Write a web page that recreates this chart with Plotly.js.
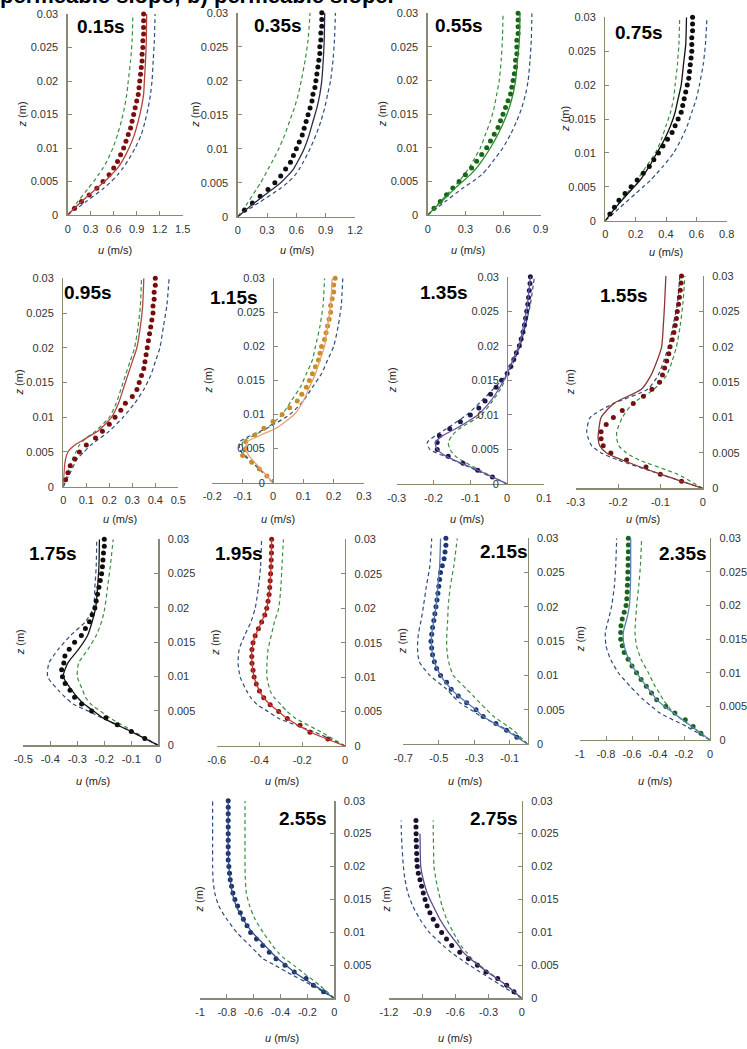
<!DOCTYPE html>
<html><head><meta charset="utf-8">
<script src="https://cdn.plot.ly/plotly-3.0.1.min.js"></script>
<style>html,body{margin:0;padding:0;background:#fff;}#chart{width:747px;height:1049px;}</style>
</head><body><div id="chart"></div>
<script>
// ---------- DATA ----------
const zLine = [0, 0.002, 0.004, 0.005, 0.006, 0.007, 0.008, 0.010, 0.012, 0.014, 0.016, 0.018, 0.020, 0.023, 0.026, 0.030];
const zLine275 = [0, 0.002, 0.004, 0.005, 0.006, 0.007, 0.008, 0.010, 0.012, 0.014, 0.016, 0.018, 0.020, 0.023, 0.025, 0.027];
const zDots = [0.001,0.002,0.003,0.004,0.005,0.006,0.007,0.008,0.009,0.010,0.011,0.012,0.013,0.014,0.015,0.016,0.017,0.018,0.019,0.020,0.021,0.022,0.023,0.024,0.025,0.026,0.027,0.028,0.029,0.030];
const zTicks = [0, 0.005, 0.01, 0.015, 0.02, 0.025, 0.03];

const timeLabels = ['0.15s','0.35s','0.55s','0.75s','0.95s','1.15s','1.35s','1.55s','1.75s','1.95s','2.15s','2.35s','2.55s','2.75s'];

const xt015 = [0, 0.3, 0.6, 0.9, 1.2, 1.5];
const xt035 = [0, 0.3, 0.6, 0.9, 1.2];
const xt055 = [0, 0.3, 0.6, 0.9];
const xt075 = [0, 0.2, 0.4, 0.6, 0.8];
const xt095 = [0, 0.1, 0.2, 0.3, 0.4, 0.5];
const xt115 = [-0.2, -0.1, 0, 0.1, 0.2, 0.3];
const xt135 = [-0.3, -0.2, -0.1, 0, 0.1];
const xt155 = [-0.3, -0.2, -0.1, 0];
const xt175 = [-0.5, -0.4, -0.3, -0.2, -0.1, 0];
const xt195 = [-0.6, -0.4, -0.2, 0];
const xt215 = [-0.7, -0.5, -0.3, -0.1];
const xt235 = [-1, -0.8, -0.6, -0.4, -0.2, 0];
const xt255 = [-1, -0.8, -0.6, -0.4, -0.2, 0];
const xt275 = [-1.2, -0.9, -0.6, -0.3, 0];
const xRange215 = [-0.7, 0];

// 0.15 s
const green015 = [0, 0.13, 0.27, 0.34, 0.40, 0.46, 0.51, 0.59, 0.65, 0.70, 0.74, 0.77, 0.79, 0.82, 0.84, 0.85];
const blue015  = [0, 0.24, 0.47, 0.57, 0.65, 0.72, 0.78, 0.88, 0.96, 1.01, 1.05, 1.08, 1.10, 1.115, 1.13, 1.14];
const model015 = [0, 0.18, 0.38, 0.48, 0.57, 0.65, 0.71, 0.80, 0.87, 0.92, 0.96, 0.99, 1.00, 1.015, 1.025, 1.03];
const meas015  = [0.09,0.18,0.28,0.38,0.46,0.54,0.60,0.65,0.69,0.73,0.76,0.79,0.82,0.84,0.86,0.88,0.90,0.92,0.93,0.94,0.95,0.96,0.97,0.97,0.98,0.98,0.99,0.99,0.99,0.99];
// 0.35 s
const green035 = [0, 0.10, 0.19, 0.235, 0.275, 0.31, 0.35, 0.42, 0.48, 0.53, 0.58, 0.62, 0.65, 0.69, 0.72, 0.74];
const blue035  = [0, 0.21, 0.42, 0.51, 0.58, 0.63, 0.67, 0.74, 0.80, 0.85, 0.89, 0.92, 0.95, 0.975, 0.99, 1.00];
const model035 = [0, 0.17, 0.35, 0.44, 0.51, 0.57, 0.61, 0.68, 0.73, 0.77, 0.81, 0.84, 0.86, 0.875, 0.885, 0.89];
const meas035  = [0.07,0.15,0.23,0.31,0.38,0.44,0.49,0.54,0.57,0.60,0.63,0.66,0.68,0.70,0.72,0.74,0.76,0.77,0.79,0.80,0.81,0.82,0.83,0.84,0.84,0.85,0.85,0.86,0.86,0.86];
// 0.55 s
const green055 = [0, 0.10, 0.20, 0.25, 0.29, 0.33, 0.36, 0.42, 0.46, 0.50, 0.53, 0.55, 0.57, 0.585, 0.595, 0.60];
const blue055  = [0, 0.14, 0.28, 0.36, 0.43, 0.48, 0.52, 0.60, 0.66, 0.71, 0.75, 0.78, 0.80, 0.815, 0.825, 0.83];
const model055 = [0, 0.11, 0.22, 0.28, 0.34, 0.39, 0.43, 0.50, 0.56, 0.61, 0.65, 0.68, 0.70, 0.715, 0.73, 0.735];
const meas055  = [0.05,0.10,0.15,0.20,0.25,0.30,0.35,0.39,0.43,0.47,0.50,0.53,0.56,0.58,0.60,0.62,0.64,0.66,0.67,0.68,0.69,0.70,0.70,0.71,0.71,0.71,0.72,0.72,0.72,0.72];
// 0.75 s
const green075 = [0, 0.07, 0.14, 0.18, 0.21, 0.24, 0.27, 0.33, 0.37, 0.40, 0.43, 0.45, 0.46, 0.475, 0.485, 0.49];
const blue075  = [0, 0.10, 0.20, 0.25, 0.30, 0.34, 0.38, 0.45, 0.50, 0.54, 0.57, 0.60, 0.62, 0.645, 0.66, 0.67];
const model075 = [0, 0.07, 0.15, 0.19, 0.23, 0.26, 0.29, 0.34, 0.39, 0.43, 0.46, 0.48, 0.50, 0.515, 0.53, 0.535];
const meas075  = [0.03,0.06,0.09,0.13,0.17,0.21,0.25,0.29,0.32,0.35,0.38,0.41,0.44,0.46,0.48,0.50,0.51,0.52,0.53,0.54,0.55,0.555,0.56,0.565,0.57,0.57,0.57,0.575,0.575,0.575];
// 0.95 s
const green095 = [0, 0.02, 0.04, 0.055, 0.07, 0.10, 0.14, 0.20, 0.23, 0.25, 0.27, 0.29, 0.31, 0.325, 0.335, 0.34];
const blue095  = [0, 0.03, 0.06, 0.09, 0.12, 0.16, 0.20, 0.26, 0.31, 0.35, 0.38, 0.40, 0.42, 0.435, 0.45, 0.46];
const model095 = [0, 0.003, 0.01, 0.02, 0.05, 0.10, 0.15, 0.21, 0.24, 0.26, 0.28, 0.30, 0.32, 0.335, 0.345, 0.35];
const meas095  = [0.01,0.02,0.03,0.05,0.07,0.10,0.14,0.17,0.20,0.225,0.25,0.27,0.30,0.32,0.33,0.34,0.35,0.355,0.36,0.365,0.37,0.375,0.38,0.385,0.39,0.39,0.395,0.395,0.40,0.40];
// 1.15 s
const green115 = [0, -0.045, -0.09, -0.10, -0.10, -0.06, -0.02, 0.03, 0.06, 0.09, 0.11, 0.13, 0.14, 0.155, 0.165, 0.17];
const blue115  = [0, -0.045, -0.095, -0.11, -0.11, -0.07, -0.02, 0.055, 0.10, 0.13, 0.16, 0.18, 0.20, 0.215, 0.225, 0.23];
const model115 = [0, -0.04, -0.08, -0.09, -0.085, -0.04, 0.01, 0.07, 0.10, 0.12, 0.14, 0.155, 0.17, 0.18, 0.19, 0.195];
const meas115  = [-0.02,-0.045,-0.07,-0.10,-0.09,-0.09,-0.06,-0.03,0.0,0.03,0.055,0.08,0.095,0.11,0.12,0.13,0.14,0.15,0.155,0.16,0.17,0.175,0.18,0.185,0.19,0.19,0.195,0.20,0.20,0.205];
// 1.35 s
const green135 = [0, -0.075, -0.14, -0.155, -0.16, -0.15, -0.13, -0.07, -0.04, -0.015, 0.0, 0.015, 0.03, 0.045, 0.055, 0.063];
const blue135  = [0, -0.085, -0.17, -0.21, -0.217, -0.195, -0.165, -0.11, -0.07, -0.033, 0.002, 0.02, 0.035, 0.05, 0.063, 0.074];
const model135 = [0, -0.08, -0.165, -0.19, -0.195, -0.175, -0.14, -0.08, -0.045, -0.02, 0.0, 0.016, 0.032, 0.045, 0.055, 0.063];
const meas135  = [-0.04,-0.08,-0.12,-0.16,-0.19,-0.19,-0.184,-0.156,-0.127,-0.10,-0.077,-0.06,-0.045,-0.03,-0.015,0.0,0.01,0.018,0.025,0.033,0.038,0.043,0.047,0.05,0.053,0.056,0.058,0.06,0.062,0.063];
// 1.55 s
const green155 = [0, -0.06, -0.15, -0.18, -0.198, -0.203, -0.203, -0.19, -0.165, -0.115, -0.085, -0.072, -0.062, -0.053, -0.047, -0.042];
const blue155  = [0, -0.10, -0.20, -0.24, -0.262, -0.27, -0.274, -0.266, -0.21, -0.13, -0.105, -0.092, -0.081, -0.07, -0.06, -0.054];
const model155 = [0, -0.10, -0.19, -0.227, -0.243, -0.247, -0.246, -0.24, -0.21, -0.145, -0.122, -0.108, -0.097, -0.093, -0.09, -0.087];
const meas155  = [-0.05,-0.10,-0.134,-0.18,-0.217,-0.235,-0.24,-0.24,-0.228,-0.211,-0.19,-0.164,-0.14,-0.12,-0.102,-0.095,-0.09,-0.085,-0.08,-0.077,-0.072,-0.068,-0.065,-0.062,-0.06,-0.057,-0.055,-0.053,-0.051,-0.05];
// 1.75 s
const green175 = [0, -0.09, -0.18, -0.215, -0.25, -0.27, -0.28, -0.30, -0.295, -0.26, -0.23, -0.21, -0.198, -0.188, -0.178, -0.167];
const blue175  = [0, -0.10, -0.21, -0.26, -0.315, -0.345, -0.37, -0.41, -0.405, -0.37, -0.325, -0.27, -0.24, -0.235, -0.23, -0.228];
const model175 = [0, -0.10, -0.205, -0.24, -0.275, -0.30, -0.32, -0.352, -0.335, -0.295, -0.262, -0.245, -0.232, -0.225, -0.22, -0.218];
const meas175  = [-0.05,-0.10,-0.152,-0.194,-0.247,-0.284,-0.31,-0.327,-0.345,-0.355,-0.358,-0.35,-0.346,-0.33,-0.31,-0.285,-0.27,-0.255,-0.245,-0.235,-0.23,-0.225,-0.22,-0.215,-0.21,-0.207,-0.205,-0.203,-0.20,-0.20];
// 1.95 s
const green195 = [0, -0.11, -0.23, -0.27, -0.30, -0.33, -0.35, -0.365, -0.365, -0.36, -0.345, -0.33, -0.31, -0.30, -0.295, -0.288];
const blue195  = [0, -0.14, -0.31, -0.36, -0.41, -0.44, -0.46, -0.49, -0.50, -0.495, -0.47, -0.44, -0.42, -0.405, -0.395, -0.39];
const model195 = [0, -0.16, -0.27, -0.31, -0.35, -0.38, -0.40, -0.425, -0.435, -0.435, -0.42, -0.39, -0.366, -0.352, -0.346, -0.343];
const meas195  = [-0.08,-0.164,-0.21,-0.27,-0.31,-0.35,-0.38,-0.40,-0.415,-0.425,-0.43,-0.435,-0.436,-0.435,-0.43,-0.42,-0.405,-0.39,-0.375,-0.366,-0.36,-0.355,-0.352,-0.35,-0.348,-0.346,-0.345,-0.344,-0.343,-0.343];
// 2.15 s
const green215 = [0, -0.08, -0.19, -0.23, -0.268, -0.305, -0.343, -0.418, -0.445, -0.455, -0.455, -0.45, -0.447, -0.435, -0.415, -0.396];
const blue215  = [0, -0.11, -0.26, -0.32, -0.38, -0.42, -0.456, -0.55, -0.61, -0.62, -0.615, -0.60, -0.587, -0.57, -0.55, -0.54];
const model215 = [0, -0.12, -0.25, -0.29, -0.34, -0.39, -0.43, -0.49, -0.525, -0.54, -0.54, -0.528, -0.516, -0.505, -0.495, -0.49];
const meas215  = [-0.06,-0.118,-0.178,-0.25,-0.29,-0.343,-0.39,-0.43,-0.456,-0.49,-0.512,-0.525,-0.535,-0.54,-0.544,-0.54,-0.535,-0.528,-0.522,-0.516,-0.51,-0.505,-0.50,-0.495,-0.49,-0.48,-0.47,-0.465,-0.46,-0.46];
// 2.35 s
const green235 = [0, -0.14, -0.282, -0.32, -0.36, -0.39, -0.423, -0.474, -0.53, -0.565, -0.577, -0.572, -0.564, -0.548, -0.535, -0.526];
const blue235  = [0, -0.18, -0.385, -0.45, -0.513, -0.565, -0.615, -0.705, -0.765, -0.80, -0.805, -0.78, -0.756, -0.735, -0.725, -0.718];
const model235 = [0, -0.14, -0.28, -0.35, -0.41, -0.45, -0.49, -0.565, -0.625, -0.66, -0.667, -0.64, -0.62, -0.612, -0.61, -0.61];
const meas235  = [-0.07,-0.13,-0.19,-0.27,-0.34,-0.41,-0.45,-0.49,-0.53,-0.565,-0.60,-0.63,-0.66,-0.675,-0.687,-0.687,-0.685,-0.675,-0.66,-0.646,-0.64,-0.637,-0.635,-0.633,-0.632,-0.63,-0.63,-0.628,-0.628,-0.628];
// 2.55 s
const green255 = [0, -0.11, -0.24, -0.30, -0.37, -0.42, -0.46, -0.53, -0.59, -0.63, -0.655, -0.662, -0.665, -0.665, -0.665, -0.665];
const blue255  = [0, -0.17, -0.355, -0.44, -0.53, -0.58, -0.628, -0.727, -0.80, -0.86, -0.89, -0.903, -0.906, -0.906, -0.906, -0.906];
const model255 = [0, -0.15, -0.30, -0.36, -0.42, -0.47, -0.516, -0.61, -0.68, -0.73, -0.76, -0.775, -0.785, -0.79, -0.79, -0.79];
const meas255  = [-0.08,-0.156,-0.21,-0.298,-0.367,-0.434,-0.484,-0.533,-0.58,-0.623,-0.65,-0.677,-0.70,-0.72,-0.74,-0.755,-0.765,-0.775,-0.78,-0.785,-0.79,-0.79,-0.79,-0.79,-0.79,-0.79,-0.79,-0.79,-0.79,-0.79];
// 2.75 s (profiles end below 0.03 m)
const green275 = [0, -0.14, -0.30, -0.38, -0.45, -0.50, -0.55, -0.618, -0.678, -0.72, -0.75, -0.775, -0.793, -0.797, -0.80, -0.80];
const blue275  = [0, -0.19, -0.377, -0.47, -0.558, -0.64, -0.71, -0.835, -0.92, -0.985, -1.03, -1.055, -1.07, -1.082, -1.088, -1.09];
const model275 = [0, -0.14, -0.31, -0.39, -0.465, -0.53, -0.57, -0.663, -0.74, -0.80, -0.855, -0.89, -0.913, -0.918, -0.92, null];
const meas275  = [-0.07,-0.136,-0.217,-0.323,-0.40,-0.482,-0.56,-0.633,-0.68,-0.724,-0.765,-0.80,-0.83,-0.855,-0.874,-0.89,-0.905,-0.92,-0.935,-0.944,-0.948,-0.95,-0.952,-0.954,-0.955,-0.956,-0.956];

const seriesSets = [
  [green015, blue015, model015, meas015, xt015],
  [green035, blue035, model035, meas035, xt035],
  [green055, blue055, model055, meas055, xt055],
  [green075, blue075, model075, meas075, xt075],
  [green095, blue095, model095, meas095, xt095],
  [green115, blue115, model115, meas115, xt115],
  [green135, blue135, model135, meas135, xt135],
  [green155, blue155, model155, meas155, xt155],
  [green175, blue175, model175, meas175, xt175],
  [green195, blue195, model195, meas195, xt195],
  [green215, blue215, model215, meas215, xt215],
  [green235, blue235, model235, meas235, xt235],
  [green255, blue255, model255, meas255, xt255],
  [green275, blue275, model275, meas275, xt275]
];

// ---------- LAYOUT / STYLE (pixel positions on the 747x1049 page) ----------
const W = 747, H = 1049;
const fx = p => p / W;
const fy = p => 1 - p / H;
const AX = '#8c8872';
const GREEN = '#3d8c40';
const BLUE = '#2e4d7e';
const FONT = 'Liberation Sans, Arial, sans-serif';

const styles = [
  {box:[67.7,182.7,14,215],     side:'left',  lab:[75,27],   zt:22,  ut:[115,250], line:'#b5403c', dot:'#7c0e0e'},
  {box:[237.7,355,12.7,216.7],  side:'left',  lab:[252,26],  zt:195, ut:[297,250], line:'#2b2b45', dot:'#0d0d0d'},
  {box:[427.7,540.7,13.3,215],  side:'left',  lab:[433,25],  zt:382, ut:[468,250], line:'#2e8a2e', dot:'#176617'},
  {box:[605.3,726.7,17.3,220.7],side:'left',  lab:[613,32],  zt:565, ut:[666,252], line:'#111111', dot:'#0d0d0d'},
  {box:[63.3,178.3,278.3,486.7],side:'left',  lab:[62,293],  zt:18,  ut:[120,519], line:'#b04848', dot:'#760c0c'},
  {box:[212.3,364,278.3,482.7], side:'zero',  lab:[208,297], zt:207, ut:[278,519], line:'#e5a070', dot:'#c98b2c'},
  {box:[396.7,544,276.7,484],   side:'zero',  lab:[418,292], zt:392, ut:[467,519], line:'#6b55a5', dot:'#1d1a48'},
  {box:[575.7,702.7,276,488.3], side:'right', lab:[598,295], zt:570, ut:[643,519], line:'#8a3535', dot:'#761010'},
  {box:[23.3,158.3,539.3,745.3],side:'right', lab:[27,553],  zt:20,  ut:[93,781],  line:'#151515', dot:'#0d0d0d'},
  {box:[216.7,345,539.3,746],   side:'right', lab:[213,553], zt:215, ut:[282,781], line:'#c83a30', dot:'#8a1616'},
  {box:[403.3,527.5,538.3,744], side:'right', lab:[478,552], zt:402, ut:[465,781], line:'#5878ab', dot:'#1c3777'},
  {box:[580,710,538.3,740],     side:'right', lab:[657,553], zt:580, ut:[655,781], line:'#5b80b2', dot:'#17661a'},
  {box:[200,334.3,800.7,998.3], side:'right', lab:[277,818], zt:198, ut:[282,1038],line:'#2d4c8a', dot:'#1c3366'},
  {box:[389,521.7,800.7,998.3], side:'right', lab:[468,818], zt:385, ut:[455,1038],line:'#5c4b8c', dot:'#1a1030'}
];

const traces = [];
const layout = {
  width: W, height: H,
  margin: {l:0, r:0, t:0, b:0},
  paper_bgcolor: '#ffffff', plot_bgcolor: 'rgba(0,0,0,0)',
  showlegend: false,
  font: {family: FONT, color: '#333333', size: 11},
  annotations: [{
    text: '<b>permeable slope; b) permeable slope.</b>',
    xref:'paper', yref:'paper', x: fx(-2), y: 1, xanchor:'left', yanchor:'bottom',
    yshift: -10, showarrow:false, font:{family: FONT, size: 22, color:'#000000'}
  }]
};

seriesSets.forEach((set, i) => {
  const [g, b, m, d, xt] = set;
  const st = styles[i];
  const n = i + 1;
  const xa = n === 1 ? 'x' : 'x' + n;
  const ya = n === 1 ? 'y' : 'y' + n;
  const zl = (i === 13) ? zLine275 : zLine;
  const xr = (i === 10) ? xRange215 : [xt[0], xt[xt.length - 1]];
  const [x0, x1, yt, yb] = st.box;

  const common = {xaxis: xa, yaxis: ya, cliponaxis: false, hoverinfo: 'skip'};
  traces.push(Object.assign({type:'scatter', mode:'lines', x:g, y:zl,
    line:{color:GREEN, width:1.2, dash:'4px,3px', shape:'spline', smoothing:0.6}}, common));
  traces.push(Object.assign({type:'scatter', mode:'lines', x:b, y:zl,
    line:{color:BLUE, width:1.2, dash:'4px,3px', shape:'spline', smoothing:0.6}}, common));
  traces.push(Object.assign({type:'scatter', mode:'markers', x:d, y:zDots,
    marker:{color:st.dot, size:5}}, common));
  traces.push(Object.assign({type:'scatter', mode:'lines', x:m, y:zl, connectgaps:false,
    line:{color:st.line, width:1.3, shape:'spline', smoothing:0.6}}, common));

  const xKey = n === 1 ? 'xaxis' : 'xaxis' + n;
  const yKey = n === 1 ? 'yaxis' : 'yaxis' + n;
  layout[xKey] = {
    domain:[fx(x0), fx(x1)], range: xr, anchor: ya,
    tickvals: xt, ticktext: xt.map(String),
    showline:true, linecolor:AX, linewidth:1.3, ticks:'inside', ticklen:4, tickcolor:AX, tickwidth:1,
    showgrid:false, zeroline:false, ticklabelstandoff:3,
    tickfont:{family:FONT, size:11, color:'#333333'}
  };
  const yax = {
    domain:[fy(yb), fy(yt)], range:[0, 0.03],
    tickvals: zTicks, ticktext: zTicks.map(String),
    showline:true, linecolor:AX, linewidth:1.3, ticks:'inside', ticklen:4, tickcolor:AX, tickwidth:1,
    showgrid:false, zeroline:false, ticklabelstandoff:6,
    tickfont:{family:FONT, size:11, color:'#333333'}
  };
  if (st.side === 'left') { yax.anchor = xa; yax.side = 'left'; }
  else if (st.side === 'right') { yax.anchor = xa; yax.side = 'right'; }
  else {
    const pos = x0 + (0 - xr[0]) / (xr[1] - xr[0]) * (x1 - x0);
    yax.anchor = 'free'; yax.position = fx(pos); yax.side = 'left';
  }
  layout[yKey] = yax;

  layout.annotations.push({
    text:'<b>' + timeLabels[i] + '</b>', xref:'paper', yref:'paper',
    x: fx(st.lab[0]), y: fy(st.lab[1]), xanchor:'left', yanchor:'middle',
    showarrow:false, font:{family:FONT, size:19, color:'#000000'}
  });
  layout.annotations.push({
    text:'<i>z</i> (m)', xref:'paper', yref:'paper', textangle:-90,
    x: fx(st.zt), y: fy((yt + yb) / 2), xanchor:'center', yanchor:'middle',
    showarrow:false, font:{family:FONT, size:11, color:'#222222'}
  });
  layout.annotations.push({
    text:'<i>u</i> (m/s)', xref:'paper', yref:'paper',
    x: fx(st.ut[0]), y: fy(st.ut[1]), xanchor:'center', yanchor:'middle',
    showarrow:false, font:{family:FONT, size:11, color:'#222222'}
  });
});

Plotly.newPlot('chart', traces, layout, {staticPlot:true, displayModeBar:false});
</script></body></html>
